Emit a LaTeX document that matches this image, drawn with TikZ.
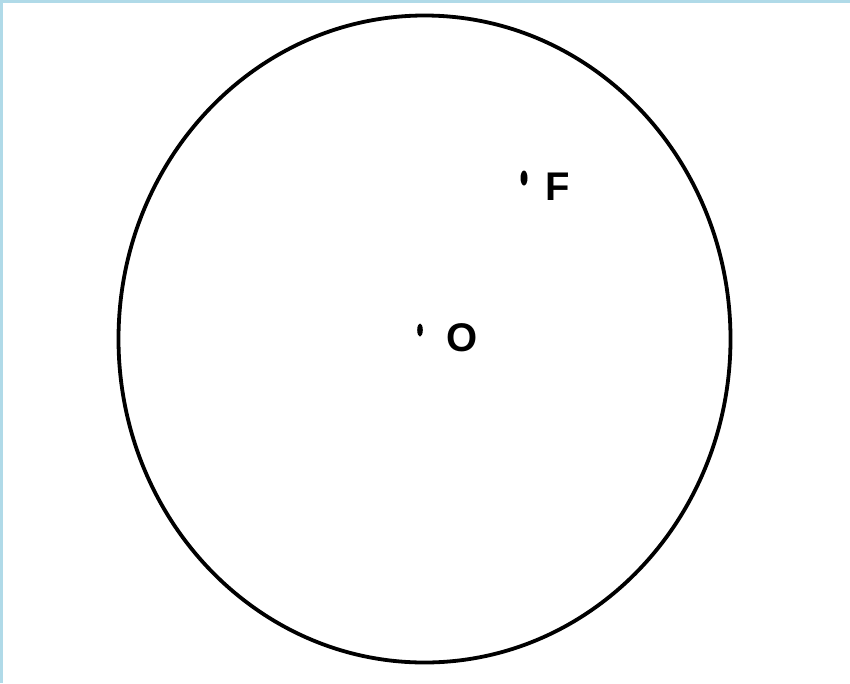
\documentclass[tikz,border=0pt]{standalone}
\usepackage{fontspec}
\setmainfont{Liberation Sans}
\usetikzlibrary{shapes.geometric}
\definecolor{frameblue}{RGB}{176,218,232}
\begin{document}
\begin{tikzpicture}[x=1pt,y=-1pt,
  lbl/.style={font=\fontsize{40}{40}\selectfont\bfseries, inner sep=0pt, anchor=west},
  dotmark/.style={fill=black, draw=none}]
\useasboundingbox (0,0) rectangle (850,683);
\fill[white] (0,0) rectangle (850,683);
\fill[frameblue] (0,0) rectangle (3,683);
\fill[frameblue] (0,0) rectangle (850,2.5);
\node[draw, line width=3.8pt, ellipse, minimum width=612pt, minimum height=647pt, inner sep=0pt] (circ) at (424.5,339) {};
\fill[dotmark] (420,330) ellipse (2.8pt and 6.5pt);
\coordinate (dO) at (420,330);
\fill[dotmark] (524,178) ellipse (3.5pt and 7.5pt);
\coordinate (dF) at (524,178);
\node[lbl] (O) at (446,337.5) {O};
\node[lbl] (F) at (545,187) {F};
\end{tikzpicture}
\end{document}
